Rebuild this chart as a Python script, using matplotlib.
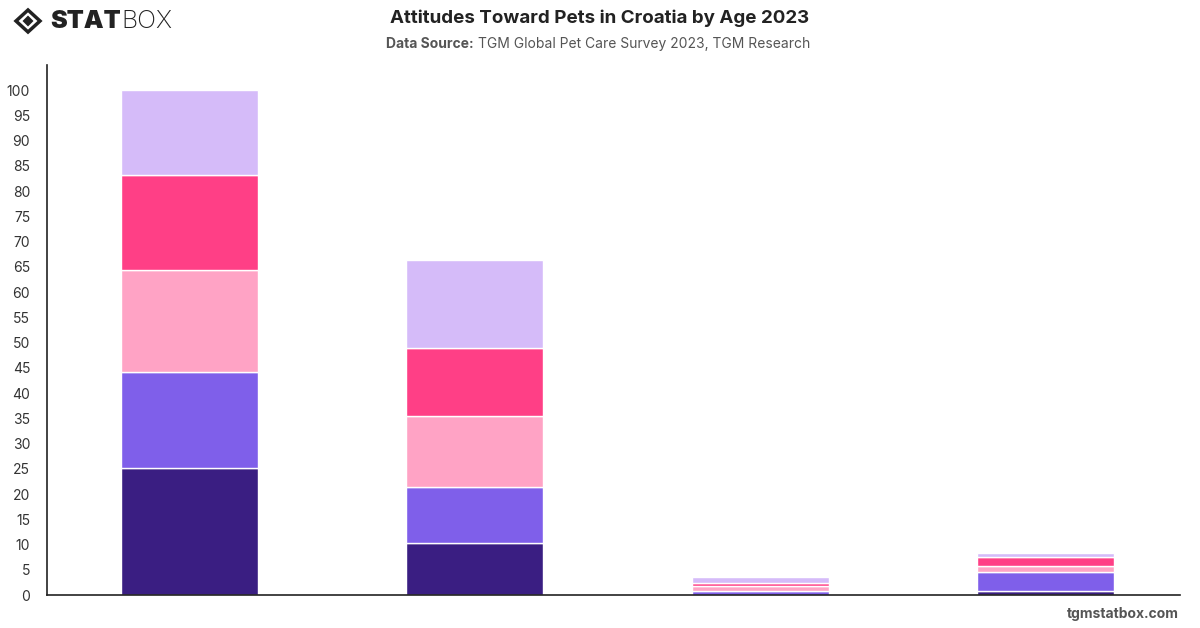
import matplotlib.pyplot as plt
import numpy as np
from matplotlib.patches import Polygon

# age groups (not labelled on the chart)
age_groups = ['18-34', '35-54', '55+', 'Other']
# stacked segments, bottom to top
seg_1 = [25.2, 10.3, 0.1, 0.8]
seg_2 = [19.0, 11.1, 0.6, 3.8]
seg_3 = [20.1, 14.1, 1.0, 1.1]
seg_4 = [19.0, 13.5, 0.6, 1.8]
seg_5 = [16.7, 17.3, 1.2, 0.8]
colors = ['#3a1e82', '#7f5fea', '#ffa3c5', '#ff3f86', '#d5bbf9']
y_ticks = list(range(0, 101, 5))

plt.rcParams['font.family'] = ['Inter', 'DejaVu Sans']

fig = plt.figure(figsize=(12, 6.28), dpi=100)
ax = fig.add_axes([0.039, 0.0525, 0.944, 0.844])

x = np.arange(len(age_groups))
bottom = np.zeros(len(age_groups))
for vals, c in zip([seg_1, seg_2, seg_3, seg_4, seg_5], colors):
    ax.bar(x, vals, width=0.48, bottom=bottom, color=c, edgecolor='white', linewidth=1)
    bottom += np.array(vals)

ax.set_xlim(-0.5, 3.47)
ax.set_ylim(0, 105)
ax.set_yticks(y_ticks)
ax.set_xticks([])
ax.tick_params(axis='y', length=0, labelsize=10, labelcolor='#333333', pad=12)
for s in ['top', 'right']:
    ax.spines[s].set_visible(False)
for s in ['left', 'bottom']:
    ax.spines[s].set_color('#222222')
    ax.spines[s].set_linewidth(1.2)

# titles
fig.text(0.5, 1 - 18 / 628, 'Attitudes Toward Pets in Croatia by Age 2023', ha='center', va='center',
         fontsize=13.5, fontweight='bold', color='#222222')
fig.text(474 / 1200, 1 - 44 / 628, 'Data Source:', ha='right', va='center', fontsize=10,
         fontweight='bold', color='#555555')
fig.text(478 / 1200, 1 - 44 / 628, 'TGM Global Pet Care Survey 2023, TGM Research', ha='left', va='center',
         fontsize=10, color='#555555')

# footer
fig.text(0.982, 1 - 614 / 628, 'tgmstatbox.com', ha='right', va='center', fontsize=10,
         fontweight='bold', color='#555555')

# logo
def px(xp, yp):
    return (xp / 1200, 1 - yp / 628)

outer = Polygon([px(28, 10), px(40, 21), px(28, 32), px(16, 21)], closed=True,
                transform=fig.transFigure, facecolor='none', edgecolor='#222222', linewidth=2.5)
inner = Polygon([px(28, 15.5), px(33.5, 21), px(28, 26.5), px(22.5, 21)], closed=True,
                transform=fig.transFigure, facecolor='#222222', edgecolor='none')
fig.patches.extend([outer, inner])
stat = fig.text(50 / 1200, 1 - 21 / 628, 'STAT', ha='left', va='center', fontsize=18,
                fontweight='black', color='#222222')
fig.canvas.draw()
bb = stat.get_window_extent().transformed(fig.transFigure.inverted())
fig.text(bb.x1 + 1 / 1200, 1 - 21 / 628, 'BOX', ha='left', va='center', fontsize=18,
         fontweight='light', color='#222222')

fig.savefig('out.png', dpi=100)
